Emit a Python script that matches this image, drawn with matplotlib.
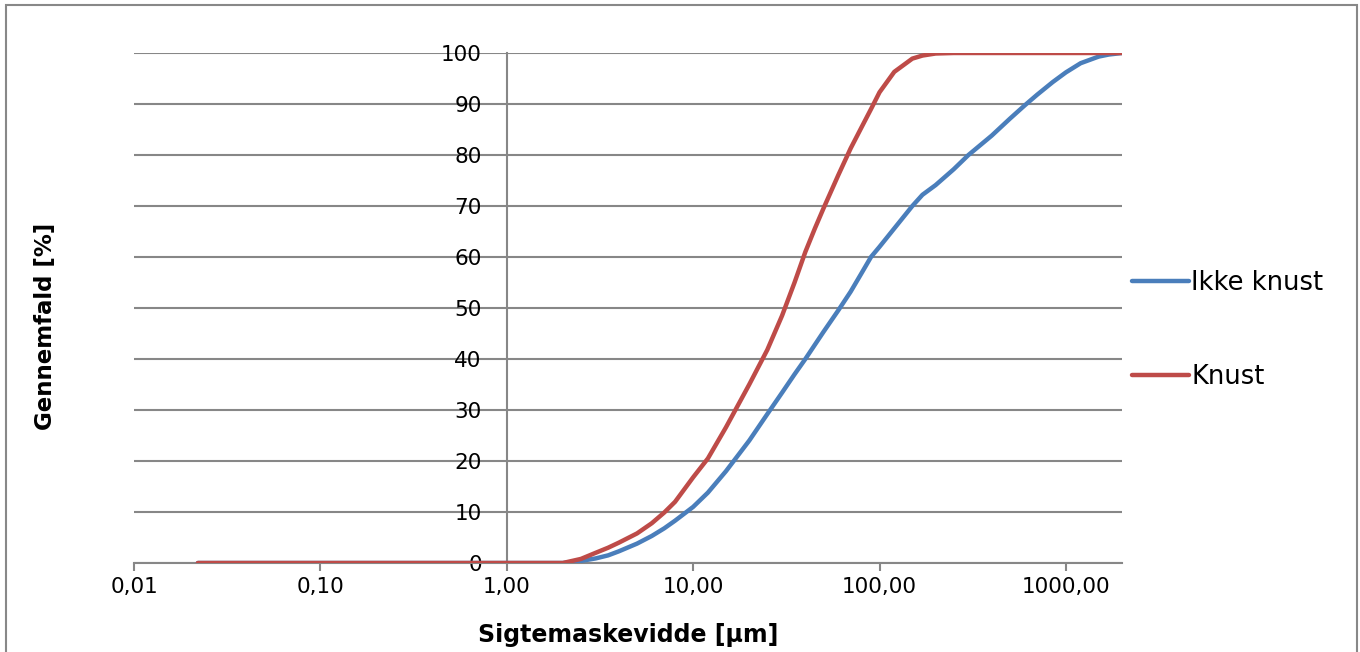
import matplotlib
matplotlib.use("Agg")
import matplotlib.pyplot as plt
from matplotlib.patches import Rectangle
from matplotlib.ticker import FixedLocator, FixedFormatter, NullLocator

# sieve sizes [um] and passing [%]
sizes = [0.022, 0.1, 0.5, 1, 1.5, 2, 2.5, 3, 3.5, 4, 5, 6, 7, 8, 10, 12, 15,
         20, 25, 30, 35, 40, 45, 50, 60, 70, 80, 90, 100, 120, 150, 170, 200,
         250, 300, 400, 500, 600, 700, 850, 1000, 1200, 1500, 1700, 2000]
ikke_knust = [0, 0, 0, 0, 0, 0, 0.4, 0.9, 1.5, 2.3, 3.8, 5.3, 6.8, 8.3, 11,
              13.8, 18, 24, 29.2, 33.4, 37, 40, 42.8, 45.3, 49.5, 53.2, 56.8,
              60, 62, 65.6, 70, 72.2, 74.1, 77.2, 80, 83.8, 87.1, 89.7, 91.8,
              94.3, 96.2, 98, 99.3, 99.7, 100]
knust = [0, 0, 0, 0, 0, 0, 0.8, 2, 3, 4, 5.8, 7.8, 9.9, 12, 16.8, 20.5, 26.6,
         35, 41.8, 48.5, 55, 61, 65.6, 69.5, 76, 81.3, 85.4, 89, 92.3, 96.3,
         98.9, 99.5, 99.9, 100, 100, 100, 100, 100, 100, 100, 100, 100, 100,
         100, 100]

series_names = ["Ikke knust", "Knust"]
series_colors = ["#4A7EBB", "#BE4B48"]
x_ticks = [0.01, 0.1, 1, 10, 100, 1000]
x_tick_labels = ["0,01", "0,10", "1,00", "10,00", "100,00", "1000,00"]
y_ticks = [0, 10, 20, 30, 40, 50, 60, 70, 80, 90, 100]

GRID = "#878787"

fig = plt.figure(figsize=(13.6, 6.52), dpi=100)
ax = fig.add_axes([134 / 1360, 1 - 563 / 652, (1122 - 134) / 1360, (563 - 53) / 652])

for vals, name, col in zip([ikke_knust, knust], series_names, series_colors):
    ax.plot(sizes, vals, color=col, linewidth=3.2, label=name,
            solid_capstyle="round", solid_joinstyle="round", zorder=3)

ax.set_xscale("log")
ax.set_xlim(0.01, 2000)
ax.set_ylim(0, 100)

ax.xaxis.set_major_locator(FixedLocator(x_ticks))
ax.xaxis.set_major_formatter(FixedFormatter(x_tick_labels))
ax.xaxis.set_minor_locator(NullLocator())
ax.set_yticks(y_ticks)
ax.grid(True, axis="y", color=GRID, linewidth=1.5, zorder=1)

# y axis crosses at 1,00
ax.spines["left"].set_position(("data", 1))
for s in ["top", "right"]:
    ax.spines[s].set_visible(False)
for s in ["left", "bottom"]:
    ax.spines[s].set_color(GRID)
    ax.spines[s].set_linewidth(1.5)
    ax.spines[s].set_zorder(2)

ax.tick_params(axis="x", length=6, width=1.5, color=GRID, labelsize=15.5, pad=4)
ax.tick_params(axis="y", length=0, labelsize=15.5, pad=18)
for lab in ax.get_yticklabels():
    lab.set_zorder(4)

ax.set_xlabel("Sigtemaskevidde [µm]", fontsize=17, fontweight="bold", labelpad=19)
ax.set_ylabel("Gennemfald [%]", fontsize=16.5, fontweight="bold")
ax.yaxis.set_label_coords(57 / 1360, 1 - 326 / 652, transform=fig.transFigure)

leg = ax.legend(loc="center left", bbox_to_anchor=(1.0, (563 - 330) / 510),
                frameon=False, fontsize=18.5, labelspacing=2.65,
                handlelength=2.2, handletextpad=0.1, borderaxespad=0.0)

fig.patches.append(Rectangle((6 / 1360, -0.02), 1351 / 1360, 1.02 - 5 / 652,
                             transform=fig.transFigure, fill=False,
                             edgecolor="#888888", linewidth=1.5))

fig.savefig("out.png", dpi=100)
